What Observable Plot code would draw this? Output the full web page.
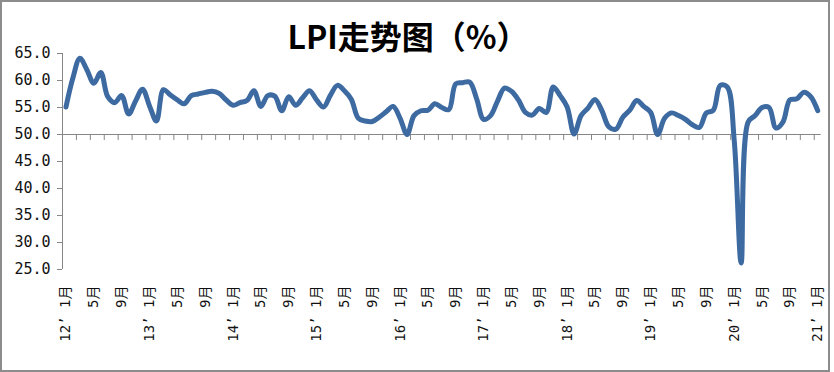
<!DOCTYPE html>
<html><head><meta charset="utf-8">
<script src="https://cdn.jsdelivr.net/npm/d3@7"></script>
<script src="https://cdn.jsdelivr.net/npm/@observablehq/plot@0.6"></script>
<style>
body{margin:0;background:#fff;}
#wrap{position:relative;width:834px;height:372px;overflow:hidden;background:#fff;}
#frame{position:absolute;left:0;top:0;width:830px;height:372px;border:2px solid #8c8c8c;box-sizing:border-box;pointer-events:none;}
#title{position:absolute;left:0;width:816px;top:15px;text-align:center;font-weight:bold;font-size:32px;font-family:"Noto Sans CJK SC",sans-serif;line-height:40px;color:#000;}
#chart{position:absolute;left:0;top:0;}
</style></head><body>
<div id="wrap"><div id="chart"></div><div id="title">LPI走势图（%）</div><div id="frame"></div></div>
<script>
// Monthly LPI, Jan 2012 .. Jan 2021
const lpi2012 = [55.1, 60.5, 64.1, 62.0, 59.5, 61.5, 57.0, 55.9, 57.2, 53.8, 56.2, 58.4];
const lpi2013 = [55.3, 52.5, 58.3, 57.3, 56.4, 55.7, 57.2, 57.5, 57.8, 58.0, 57.6, 56.4];
const lpi2014 = [55.4, 55.9, 56.3, 58.1, 55.2, 57.2, 57.1, 54.4, 57.0, 55.4, 56.8, 58.1];
const lpi2015 = [56.4, 55.1, 57.3, 59.1, 58.1, 56.5, 53.0, 52.5, 52.4, 53.2, 54.2, 55.2];
const lpi2016 = [53.0, 50.0, 53.5, 54.4, 54.5, 55.7, 55.0, 54.6, 59.4, 59.6, 59.7, 56.6];
const lpi2017 = [52.8, 53.5, 56.2, 58.6, 58.0, 56.4, 54.1, 53.6, 54.8, 54.1, 58.8, 57.2];
const lpi2018 = [55.1, 50.1, 53.5, 54.9, 56.5, 54.4, 51.4, 51.0, 53.2, 54.5, 56.3, 55.2];
const lpi2019 = [54.1, 50.0, 53.0, 54.0, 53.5, 52.8, 51.8, 51.3, 54.0, 54.5, 59.1, 58.8];
const lpi2020 = [49.0, 26.2, 52.3, 53.5, 55.0, 55.0, 51.2, 52.3, 56.4, 56.6, 57.8, 57.0];
const lpi2021 = [54.4];
const lpi = [].concat(lpi2012, lpi2013, lpi2014, lpi2015, lpi2016, lpi2017, lpi2018, lpi2019, lpi2020, lpi2021);

const xTickLabels = [
  "12’ 1月","5月","9月","13’ 1月","5月","9月","14’ 1月","5月","9月",
  "15’ 1月","5月","9月","16’ 1月","5月","9月","17’ 1月","5月","9月",
  "18’ 1月","5月","9月","19’ 1月","5月","9月","20’ 1月","5月","9月","21’ 1月"
];
const xTickIndex = xTickLabels.map((_, k) => k * 4);
const yTicks = [25, 30, 35, 40, 45, 50, 55, 60, 65];
const minorTicks = d3.range(-0.5, 109, 2);

const data = lpi.map((v, i) => ({i, v}));
const axisGray = "#868686";

const chart = Plot.plot({
  width: 834, height: 372,
  marginLeft: 62, marginRight: 13.3, marginTop: 53, marginBottom: 103,
  x: {domain: [-0.5, 108.5], axis: null},
  y: {domain: [25, 65], axis: null},
  style: {background: "transparent", overflow: "visible"},
  marks: [
    Plot.ruleX([-0.5], {y1: 25, y2: 65, stroke: axisGray}),
    Plot.ruleY([50], {x1: -0.5, x2: 108.5, stroke: axisGray}),
    Plot.ruleX(minorTicks, {x: d => d, y1: 50, y2: 48.9, stroke: axisGray}),
    Plot.axisY({ticks: yTicks, tickFormat: d => d.toFixed(1), tickSize: 5, tickPadding: 7, label: null,
      stroke: axisGray, fill: "#111", fontSize: 15, fontFamily: "'DejaVu Sans Mono', monospace"}),
    Plot.axisX({ticks: xTickIndex, tickFormat: d => xTickLabels[xTickIndex.indexOf(d)], label: null,
      tickRotate: -90, tickSize: 0, tickPadding: 16, fill: "#111", fontSize: 14,
      fontFamily: "'DejaVu Sans Mono', 'Noto Sans CJK SC', monospace"}),
    Plot.line(data, {x: "i", y: "v", curve: "catmull-rom", stroke: "#3d6aa1", strokeWidth: 5})
  ]
});
document.getElementById("chart").appendChild(chart);
</script>
</body></html>
